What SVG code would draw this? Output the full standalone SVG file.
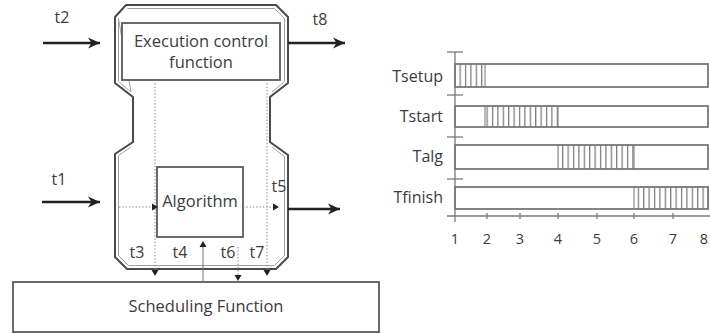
<svg xmlns="http://www.w3.org/2000/svg" width="710" height="333" viewBox="0 0 710 333">
<style>
text{font-family:"Open Sans","Liberation Sans",sans-serif;fill:#3c3c3c}
.lbl{font-size:16px;text-anchor:middle}
.big{font-size:16.5px;text-anchor:middle}
.ax{font-size:16px;text-anchor:end}
.num{font-size:14.5px;text-anchor:middle}
.outer{fill:none;stroke:#4a4a4a;stroke-width:2}
.inner{fill:none;stroke:#a0a0a0;stroke-width:1}
.box{fill:#fff;stroke:#5a5a5a;stroke-width:1.8}
.dot{fill:none;stroke:#8a8a8a;stroke-width:1;stroke-dasharray:1.5 1.8}
.thin{fill:none;stroke:#777;stroke-width:1}
.thick{fill:none;stroke:#222;stroke-width:2.6;marker-end:url(#ah)}
.tri{fill:#222}
.bar{fill:none;stroke:#777;stroke-width:1.8}
.axis{fill:none;stroke:#7a7a7a;stroke-width:1.3}
.hatch{fill:url(#hp);stroke:none}
</style>
<defs>
<marker id="ah" markerUnits="userSpaceOnUse" markerWidth="14" markerHeight="12" viewBox="-13 -6 14 12" refX="0" refY="0" orient="auto">
<path d="M0,0 L-12,-5.5 L-8.5,0 L-12,5.5 Z" fill="#222"/>
</marker>
<pattern id="hp" patternUnits="userSpaceOnUse" width="5.4" height="40" x="0.5">
<line x1="0.6" y1="0" x2="0.6" y2="40" stroke="#7a7a7a" stroke-width="1.3"/>
</pattern>
</defs>

<g id="controller">
<path class="outer" d="M126,5 L276,5 L288,17 L288,83 L270,97 L270,142 L288,155 L288,257 L276,269 L127,269 L115,257 L115,154 L133,142 L133,97 L115,83 L115,17 Z"/>
<path class="inner" d="M127.5,8.5 L274.5,8.5 L284.5,18.5 L284.5,81.5 L272,92 M272,147 L284.5,156.5 L284.5,255.5 L274.5,265.5 L128.5,265.5 L118.5,255.5 L118.5,155.5 L131,147 M131,92 L118.5,81.5 L118.5,18.5 Z"/>
</g>

<g id="exec">
<rect class="box" x="122" y="23" width="158" height="57"/>
<text class="big" x="201" y="47">Execution control</text>
<text class="big" x="201" y="68">function</text>
</g>

<g id="algorithm">
<rect class="box" x="157" y="167" width="86" height="70"/>
<text class="big" x="200" y="207">Algorithm</text>
</g>

<g id="scheduling">
<rect class="box" x="13" y="282" width="366" height="50"/>
<text class="big" x="206" y="312">Scheduling Function</text>
</g>

<g id="connectors">
<line class="dot" x1="155" y1="80" x2="155" y2="270"/>
<line class="dot" x1="267" y1="80" x2="267" y2="270"/>
<line class="dot" x1="119" y1="207" x2="154" y2="207"/>
<line class="dot" x1="243" y1="207" x2="274" y2="207"/>
<line class="dot" x1="238" y1="247" x2="238" y2="276"/>
<line class="thin" x1="203" y1="282" x2="203" y2="246"/>
<polygon class="tri" points="152,203.5 158,207 152,210.5"/>
<polygon class="tri" points="273,203.5 279,207 273,210.5"/>
<polygon class="tri" points="151.5,270 158.5,270 155,276"/>
<polygon class="tri" points="263.5,270 270.5,270 267,276"/>
<polygon class="tri" points="234.5,275 241.5,275 238,281"/>
<polygon class="tri" points="199.5,247 206.5,247 203,241"/>
<line class="thick" x1="43" y1="43" x2="100" y2="43"/>
<line class="thick" x1="42" y1="202" x2="100" y2="202"/>
<line class="thick" x1="288" y1="43" x2="345" y2="43"/>
<line class="thick" x1="288" y1="209" x2="340" y2="209"/>
</g>

<g id="labels">
<text class="lbl" x="62" y="23">t2</text>
<text class="lbl" x="320" y="25">t8</text>
<text class="lbl" x="59" y="185">t1</text>
<text class="lbl" x="279" y="192">t5</text>
<text class="lbl" x="137" y="258">t3</text>
<text class="lbl" x="180" y="258">t4</text>
<text class="lbl" x="228" y="258">t6</text>
<text class="lbl" x="257" y="258">t7</text>
</g>

<g id="chart">
<rect class="hatch" x="455" y="64" width="30" height="23"/>
<rect class="hatch" x="485" y="106" width="73" height="21"/>
<rect class="hatch" x="558" y="145" width="76" height="24"/>
<rect class="hatch" x="634" y="187" width="75" height="22"/>
<line class="thin" x1="485" y1="64" x2="485" y2="87"/>
<line class="thin" x1="485" y1="106" x2="485" y2="127"/>
<line class="thin" x1="558" y1="106" x2="558" y2="127"/>
<line class="thin" x1="558" y1="145" x2="558" y2="169"/>
<line class="thin" x1="634" y1="145" x2="634" y2="169"/>
<line class="thin" x1="634" y1="187" x2="634" y2="209"/>
<rect class="bar" x="455" y="64" width="253" height="23"/>
<rect class="bar" x="455" y="106" width="253" height="21"/>
<rect class="bar" x="455" y="145" width="253" height="24"/>
<rect class="bar" x="455" y="187" width="253" height="22"/>
<line class="axis" x1="455" y1="52" x2="455" y2="222"/>
<line class="axis" x1="447" y1="216" x2="710" y2="216"/>
<line class="axis" x1="447" y1="52" x2="463" y2="52"/>
<line class="axis" x1="447" y1="95" x2="463" y2="95"/>
<line class="axis" x1="447" y1="137" x2="463" y2="137"/>
<line class="axis" x1="447" y1="179" x2="463" y2="179"/>
<g class="axis">
<line x1="487" y1="213" x2="487" y2="219"/>
<line x1="520" y1="213" x2="520" y2="219"/>
<line x1="558" y1="213" x2="558" y2="219"/>
<line x1="597" y1="213" x2="597" y2="219"/>
<line x1="634" y1="213" x2="634" y2="219"/>
<line x1="673" y1="213" x2="673" y2="219"/>
</g>
<text class="ax" x="443" y="82">Tsetup</text>
<text class="ax" x="443" y="122">Tstart</text>
<text class="ax" x="443" y="162">Talg</text>
<text class="ax" x="443" y="203">Tfinish</text>
<text class="num" x="455" y="244">1</text>
<text class="num" x="487" y="244">2</text>
<text class="num" x="520" y="244">3</text>
<text class="num" x="558" y="244">4</text>
<text class="num" x="597" y="244">5</text>
<text class="num" x="634" y="244">6</text>
<text class="num" x="673" y="244">7</text>
<text class="num" x="704" y="244">8</text>
</g>
</svg>
